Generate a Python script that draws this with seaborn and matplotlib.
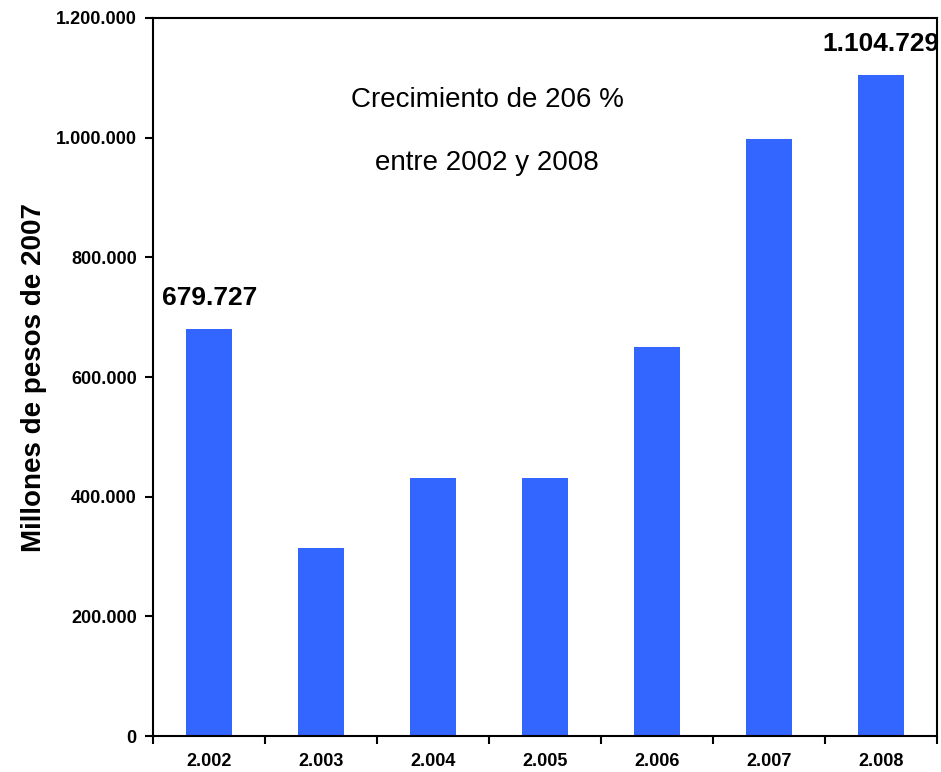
import numpy as np
import pandas as pd
import matplotlib
matplotlib.use("Agg")
import matplotlib.pyplot as plt
import seaborn as sns

years = ["2.002", "2.003", "2.004", "2.005", "2.006", "2.007", "2.008"]
values = [679727, 314000, 431000, 431000, 650000, 998000, 1104729]
y_ticks = [0, 200000, 400000, 600000, 800000, 1000000, 1200000]
annot_text = ["Crecimiento de 206 %", "entre 2002 y 2008"]

sns.set_theme(style="white")
plt.rcParams['font.family'] = ['Liberation Sans', 'DejaVu Sans']
plt.rcParams['text.color'] = 'black'
plt.rcParams['axes.labelcolor'] = 'black'
plt.rcParams['xtick.color'] = 'black'
plt.rcParams['ytick.color'] = 'black'

fig = plt.figure(figsize=(9.41, 7.72), dpi=100)
ax = fig.add_axes([0.163, 0.0466, 0.8327, 0.9301])

df = pd.DataFrame({"year": years, "value": values})
sns.barplot(data=df, x="year", y="value", color="#3366FF", saturation=1,
            width=0.41, linewidth=0, ax=ax)

ax.set_ylim(0, 1200000)
ax.set_xlim(-0.5, 6.5)
ax.set_yticks(y_ticks)
ax.set_yticklabels([f"{v:,.0f}".replace(",", ".") for v in y_ticks],
                   fontsize=13, fontweight="bold")
ax.set_xticks(np.arange(-0.5, 7, 1))
ax.set_xticklabels([])
ax.set_xticks(np.arange(7), minor=True)
ax.set_xticklabels(years, minor=True, fontsize=13, fontweight="bold")
ax.tick_params(axis="x", which="minor", length=0, pad=12)
ax.tick_params(axis="x", which="major", length=6, width=1.5, direction="out", color="black")
ax.tick_params(axis="y", length=6, width=1.5, direction="out", color="black", pad=6)
ax.tick_params(left=True, bottom=True)

for s in ax.spines.values():
    s.set_visible(True)
    s.set_color("black")
    s.set_linewidth(1.5)

ax.set_xlabel("")
ax.set_ylabel("Millones de pesos de 2007", fontsize=20, fontweight="bold", labelpad=6)

for i in (0, 6):
    ax.annotate(f"{values[i]:,.0f}".replace(",", "."), (i, values[i]),
                xytext=(0, 14), textcoords="offset points", ha="center", va="bottom",
                fontsize=19, fontweight="bold", annotation_clip=False, clip_on=False)

narrow = ['Liberation Sans Narrow', 'Liberation Sans', 'DejaVu Sans']
ax.text(2.48, 1063000, annot_text[0], ha="center", va="center", fontsize=20, family=narrow)
ax.text(2.48, 958000, annot_text[1], ha="center", va="center", fontsize=20, family=narrow)

fig.savefig("out.png", dpi=100)
